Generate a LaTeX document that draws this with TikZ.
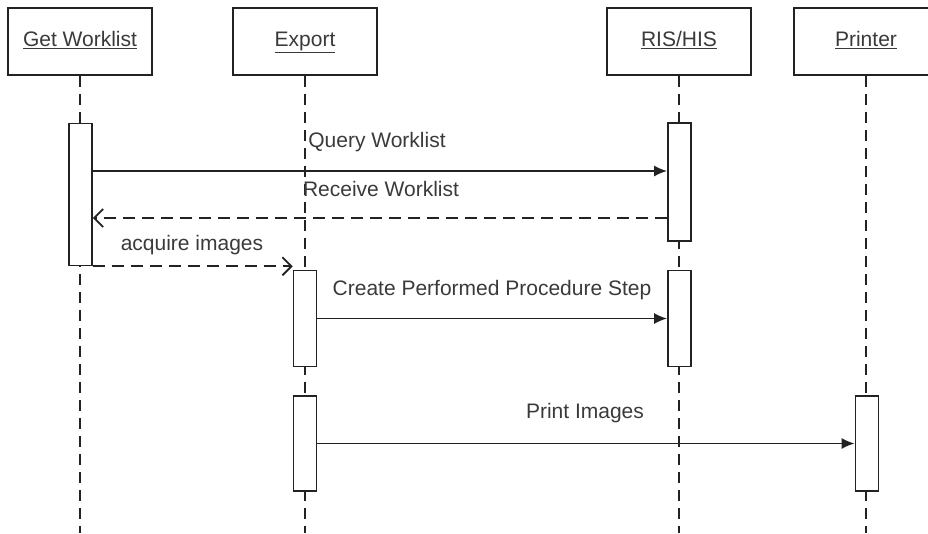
\documentclass[tikz,border=0pt]{standalone}
\usepackage{fontspec}
\setmainfont{Liberation Sans}
\usetikzlibrary{arrows.meta}
\definecolor{ln}{HTML}{222222}
\definecolor{tx}{HTML}{3A3A3A}
\tikzset{
  head/.style={draw=ln, line width=1.9pt, fill=white, minimum width=144pt, minimum height=67pt, inner sep=0pt, text=tx, font=\fontsize{21}{25}\selectfont, text height=15pt, text depth=5pt},
  life/.style={draw=ln, line width=1.8pt, dash pattern=on 11pt off 7pt},
  act/.style={draw=ln, line width=1.7pt, fill=white, minimum width=23pt, inner sep=0pt},
  msg/.style={draw=ln, line width=1.8pt, -{Latex[length=13pt,width=11pt]}},
  ret/.style={draw=ln, line width=1.8pt, dash pattern=on 12pt off 7pt, -{Straight Barb[length=9pt,width=18pt,line width=1.8pt]}},
  lbl/.style={text=tx, font=\fontsize{21}{25}\selectfont, inner sep=0pt},
}
\begin{document}
\begin{tikzpicture}[x=1pt,y=-1pt]
\useasboundingbox (0,0) rectangle (928,533);
\begin{scope}
\clip (0,0) rectangle (928,533);
% heads
\node[head] (gw) at (80,41.5) {\underline{Get Worklist}};
\node[head] (ex) at (305,41.5) {\underline{Export}};
\node[head] (ris) at (679,41.5) {\underline{RIS/HIS}};
\node[head] (pr) at (866,41.5) {\underline{Printer}};
% lifelines
\coordinate (gwend) at (80,533);
\coordinate (exend) at (305,533);
\coordinate (risend) at (679,533);
\coordinate (prend) at (866,533);
\draw[life] (gw.south) -- (gwend);
\draw[life] (ex.south) -- (exend);
\draw[life] (ris.south) -- (risend);
\draw[life] (pr.south) -- (prend);
% activations
\node[act, minimum height=142pt] (gwa) at (80.5,194.5) {};
\node[act, minimum height=96pt] (exa1) at (305,318.5) {};
\node[act, minimum height=95pt] (exa2) at (305,443.5) {};
\node[act, minimum height=118pt] (risa1) at (679.5,182) {};
\node[act, minimum height=96pt] (risa2) at (679.5,318.5) {};
\node[act, minimum height=95pt] (pra) at (867,443.5) {};
% messages
\coordinate (yq) at (0,171);
\coordinate (yr) at (0,218);
\draw[msg] (gwa.east |- yq) -- (risa1.west |- yq);
\draw[ret] (risa1.west |- yr) -- (gwa.east |- yr);
\draw[ret] (gwa.south east) -- (exa1.north west |- gwa.south east);
\draw[msg] (exa1.east) -- (risa2.west);
\draw[msg] (exa2.east) -- (pra.west);
% labels
\node[lbl] (lq) at (377,142) {Query Worklist};
\node[lbl] (lr) at (381,189) {Receive Worklist};
\node[lbl] (la) at (192,245) {acquire images};
\node[lbl] (lc) at (492,290) {Create Performed Procedure Step};
\node[lbl] (lp) at (585,413) {Print Images};
\end{scope}
\end{tikzpicture}
\end{document}
